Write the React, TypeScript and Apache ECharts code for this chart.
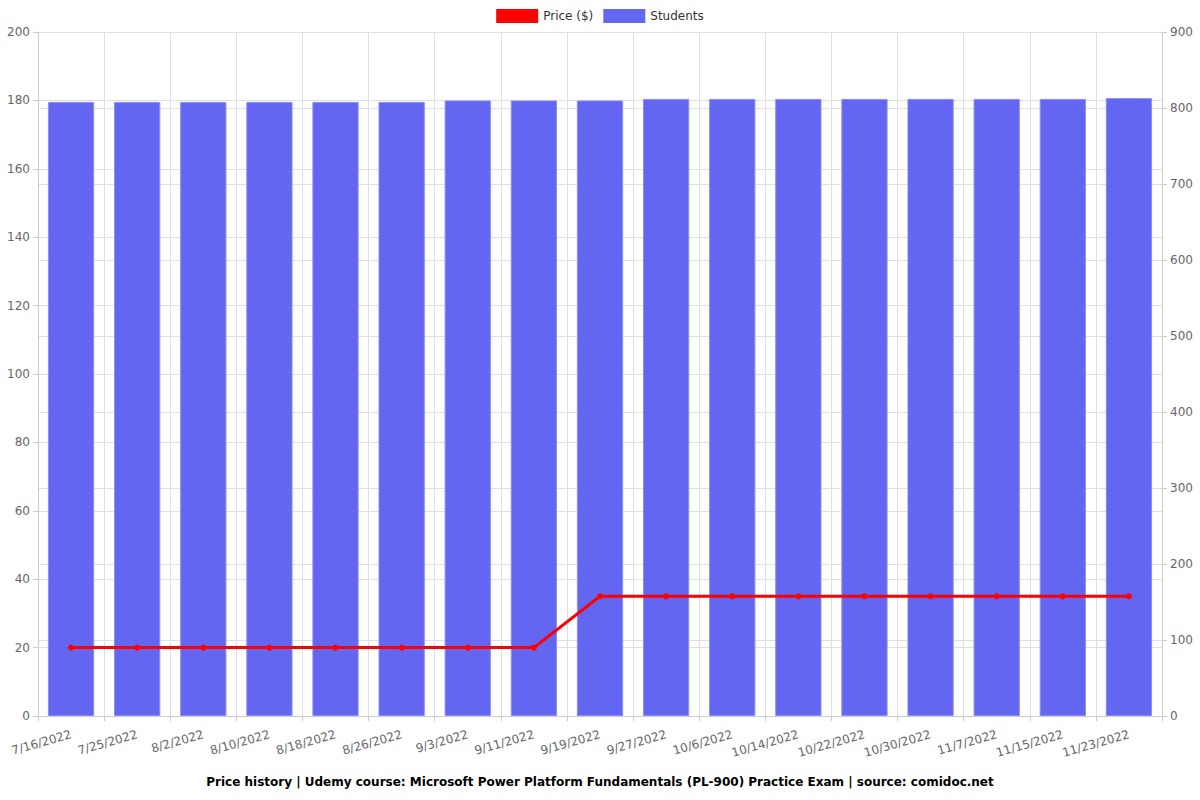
import React, { useEffect, useRef } from "react";
import * as echarts from "echarts";

const categories = [
  "7/16/2022", "7/25/2022", "8/2/2022", "8/10/2022", "8/18/2022", "8/26/2022",
  "9/3/2022", "9/11/2022", "9/19/2022", "9/27/2022", "10/6/2022", "10/14/2022",
  "10/22/2022", "10/30/2022", "11/7/2022", "11/15/2022", "11/23/2022",
];
const priceValues = [20, 20, 20, 20, 20, 20, 20, 20, 35, 35, 35, 35, 35, 35, 35, 35, 35];
const studentValues = [808, 808, 808, 808, 808, 808, 810, 810, 810, 812, 812, 812, 812, 812, 812, 812, 813];
const titleText = "Price history | Udemy course: Microsoft Power Platform Fundamentals (PL-900) Practice Exam | source: comidoc.net";

export default function App() {
  const ref = useRef<HTMLDivElement>(null);
  useEffect(() => {
    if (!ref.current) return;
    const chart = echarts.init(ref.current, null, { renderer: "svg" });
    const font = "DejaVu Sans";
    chart.setOption({
      animation: false,
      textStyle: { fontFamily: font },
      title: {
        text: titleText,
        left: "center",
        bottom: 7,
        textStyle: { fontSize: 12, fontWeight: "bold", color: "#000", fontFamily: font },
      },
      legend: {
        top: 4,
        left: "center",
        itemWidth: 42,
        itemHeight: 14,
        itemGap: 10,
        textStyle: { fontSize: 12, color: "#333", fontFamily: font },
        data: [
          { name: "Price ($)", icon: "rect", itemStyle: { color: "#ff0000" } },
          { name: "Students", icon: "rect", itemStyle: { color: "#6366f1", borderWidth: 0 } },
        ],
      },
      grid: { left: 38, right: 38, top: 32, bottom: 84, containLabel: false },
      xAxis: {
        type: "category",
        data: categories,
        axisLine: { lineStyle: { color: "#ccc" } },
        axisTick: { show: true, alignWithLabel: false, lineStyle: { color: "#ccc" } },
        splitLine: { show: true, lineStyle: { color: "#e0e0e0" } },
        axisLabel: { rotate: 16, margin: 18, color: "#666", fontSize: 12, interval: 0, fontFamily: font },
      },
      yAxis: [
        {
          type: "value",
          min: 0,
          max: 200,
          interval: 20,
          position: "left",
          axisLine: { show: true, lineStyle: { color: "#ccc" } },
          axisTick: { show: true, lineStyle: { color: "#ccc" } },
          splitLine: { show: true, lineStyle: { color: "#e0e0e0" } },
          axisLabel: { color: "#666", fontSize: 12, fontFamily: font },
        },
        {
          type: "value",
          min: 0,
          max: 900,
          interval: 100,
          position: "right",
          axisLine: { show: true, lineStyle: { color: "#ccc" } },
          axisTick: { show: true, lineStyle: { color: "#ccc" } },
          splitLine: { show: true, lineStyle: { color: "#e0e0e0" } },
          axisLabel: { color: "#666", fontSize: 12, fontFamily: font },
        },
      ],
      series: [
        {
          name: "Price ($)",
          type: "line",
          yAxisIndex: 0,
          data: priceValues,
          z: 3,
          symbol: "circle",
          symbolSize: 6,
          itemStyle: { color: "#ff0000" },
          lineStyle: { color: "#ff0000", width: 3 },
        },
        {
          name: "Students",
          type: "bar",
          yAxisIndex: 1,
          data: studentValues,
          barWidth: "70%",
          z: 2,
          itemStyle: { color: "#6366f1", borderColor: "#8b8ef5", borderWidth: 1 },
        },
      ],
    });
    return () => chart.dispose();
  }, []);
  return (
    <div
      ref={ref}
      style={{ position: "fixed", left: 0, top: 0, width: 1200, height: 800, background: "#fff" }}
    />
  );
}
